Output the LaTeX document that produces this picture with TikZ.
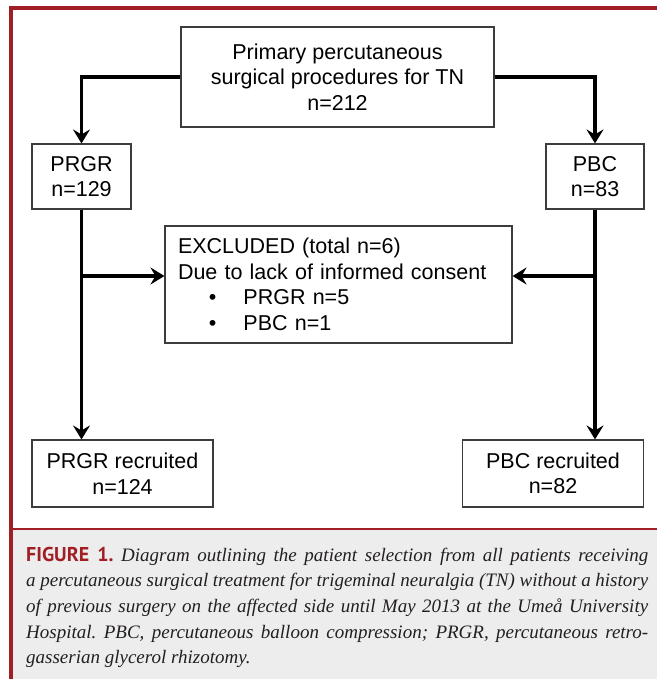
\documentclass[tikz,border=0pt]{standalone}
\usepackage{fontspec}
\setmainfont{Liberation Sans}
\newfontfamily\capserif{Liberation Serif}
\newfontfamily\capsans{PT Sans}
\usetikzlibrary{arrows.meta}
\definecolor{jred}{RGB}{160,30,36}
\definecolor{capbg}{RGB}{237,237,237}
\definecolor{boxline}{RGB}{60,60,60}
\definecolor{captext}{RGB}{35,31,32}
\begin{document}
\begin{tikzpicture}[x=1pt,y=-1pt,
  box/.style={draw=boxline, line width=1.1pt, fill=white, inner sep=0pt, align=center,
    font=\fontsize{21.5}{25.5}\selectfont},
  conn/.style={line width=3.4pt, draw=black},
  arr/.style={conn, -{Stealth[length=14pt,width=17pt,inset=5pt]}}]
\useasboundingbox (0,0) rectangle (657,679);
\fill[white] (0,0) rectangle (657,679);
\fill[capbg] (12,529) rectangle (657,679);
\fill[jred] (9,6) rectangle (657,10);
\fill[jred] (9,6) rectangle (12.5,679);
\fill[jred] (12,527.5) rectangle (657,529.5);

\node[box, minimum width=313pt, minimum height=100pt] (top) at (337.5,77)
  {Primary percutaneous\\surgical procedures for TN\\n=212};
\node[box, minimum width=99pt, minimum height=65pt] (prgr) at (81.5,176.5) {PRGR\\n=129};
\node[box, minimum width=98pt, minimum height=65pt] (pbc) at (595,176.5) {PBC\\n=83};
\node[box, align=left, inner xsep=13pt, text width=321pt, minimum height=117pt] (excl) at (338.5,284.5)
  {EXCLUDED (total n=6)\\Due to lack of informed consent\\
   \hspace*{31pt}\makebox[7.5pt]{•}\hspace*{27pt}PRGR n=5\\
   \hspace*{31pt}\makebox[7.5pt]{•}\hspace*{27pt}PBC n=1};
\node[box, minimum width=181pt, minimum height=67pt] (prgrrec) at (122.5,473.5) {PRGR recruited\\n=124};
\node[box, minimum width=181pt, minimum height=67pt] (pbcrec) at (553,473.5) {PBC recruited\\n=82};

\draw[arr] (top.west) -| (prgr.north);
\draw[arr] (top.east) -| (pbc.north);
\draw[arr] (prgr.south) -- (prgr.south |- prgrrec.north);
\draw[arr] (pbc.south) -- (pbc.south |- pbcrec.north);
\coordinate (lj) at (81.5,276);
\coordinate (rj) at (595,276);
\draw[arr] (lj) -- (lj -| excl.west);
\draw[arr] (rj) -- (rj -| excl.east);

\node[anchor=base west, inner sep=0pt, text=captext] (cap) at (26,561) {\parbox[t]{622pt}{%
  \frenchspacing\fontsize{19}{25.7}\selectfont\capserif\itshape
  \makebox[622pt][s]{{\capsans\bfseries\upshape\fontsize{20}{25.7}\selectfont\color{jred}FIGURE 1.} Diagram outlining the patient selection from all patients receiving}\\
  \makebox[622pt][s]{a percutaneous surgical treatment for trigeminal neuralgia (TN) without a history}\\
  \makebox[622pt][s]{of previous surgery on the affected side until May 2013 at the Umeå University}\\
  \makebox[622pt][s]{Hospital. PBC, percutaneous balloon compression; PRGR, percutaneous retro-}\\
  gasserian glycerol rhizotomy.}};
\end{tikzpicture}
\end{document}
